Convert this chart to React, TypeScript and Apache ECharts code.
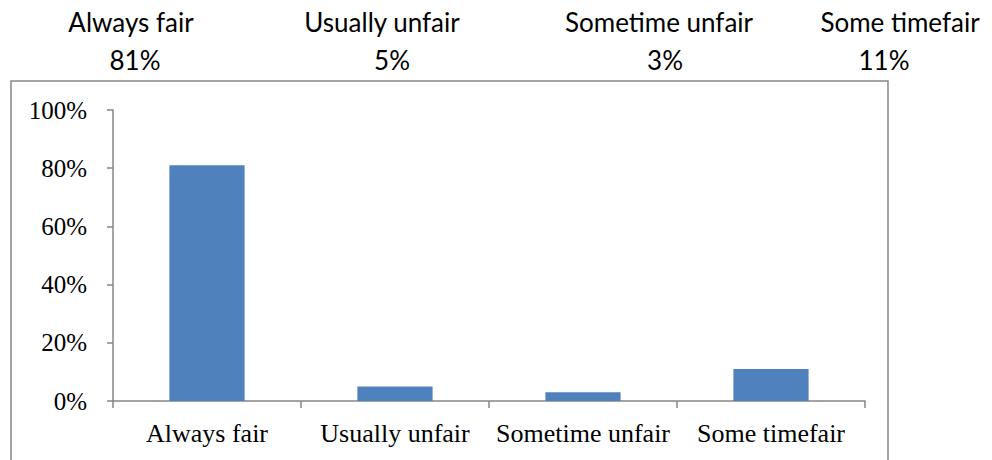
import React, { useEffect, useRef } from "react";
import * as echarts from "echarts";

const categories = ["Always fair", "Usually unfair", "Sometime unfair", "Some timefair"];
const values = [0.81, 0.05, 0.03, 0.11];
const headerLabels = ["Always fair", "Usually unfair", "Sometime unfair", "Some timefair"];
const headerPercents = ["81%", "5%", "3%", "11%"];
const yTicks = [0, 0.2, 0.4, 0.6, 0.8, 1];

const labelX = [131, 382, 659, 900];
const pctX = [135, 392, 665, 884];

export default function App() {
  const ref = useRef<HTMLDivElement>(null);
  useEffect(() => {
    document.body.style.margin = "0";
    const chart = echarts.init(ref.current!, null, { renderer: "svg" });
    const graphics: any[] = [
      {
        type: "rect",
        shape: { x: 11, y: 81, width: 877, height: 400 },
        style: { fill: "none", stroke: "#868686", lineWidth: 1.5 },
        silent: true,
      },
    ];
    headerLabels.forEach((t, i) => {
      graphics.push({
        type: "text",
        x: labelX[i],
        y: 22,
        style: {
          text: t,
          fill: "#000",
          font: "26px Lato",
          align: "center",
          verticalAlign: "middle",
        },
      });
      graphics.push({
        type: "text",
        x: pctX[i],
        y: 60,
        style: {
          text: headerPercents[i],
          fill: "#000",
          font: "26px Lato",
          align: "center",
          verticalAlign: "middle",
        },
      });
    });
    chart.setOption({
      animation: false,
      backgroundColor: "#fff",
      grid: { left: 113, right: 127, top: 110, bottom: 59 },
      xAxis: {
        type: "category",
        data: categories,
        axisLine: { lineStyle: { color: "#868686", width: 1.5 } },
        axisTick: { show: true, length: 7, lineStyle: { color: "#868686", width: 1.5 } },
        axisLabel: {
          color: "#000",
          fontFamily: "Liberation Serif",
          fontSize: 26,
          margin: 19,
          interval: 0,
        },
      },
      yAxis: {
        type: "value",
        min: yTicks[0],
        max: yTicks[yTicks.length - 1],
        interval: 0.2,
        axisLine: { show: true, lineStyle: { color: "#868686", width: 1.5 } },
        axisTick: { show: true, length: 6, lineStyle: { color: "#868686", width: 1.5 } },
        splitLine: { show: false },
        axisLabel: {
          color: "#000",
          fontFamily: "Liberation Serif",
          fontSize: 25,
          margin: 26,
          formatter: (v: number) => Math.round(v * 100) + "%",
        },
      },
      series: [
        {
          type: "bar",
          data: values,
          barCategoryGap: "60%",
          itemStyle: { color: "#4F81BD" },
        },
      ],
      graphic: graphics,
    });
    return () => chart.dispose();
  }, []);
  return <div ref={ref} style={{ width: 992, height: 460 }} />;
}
